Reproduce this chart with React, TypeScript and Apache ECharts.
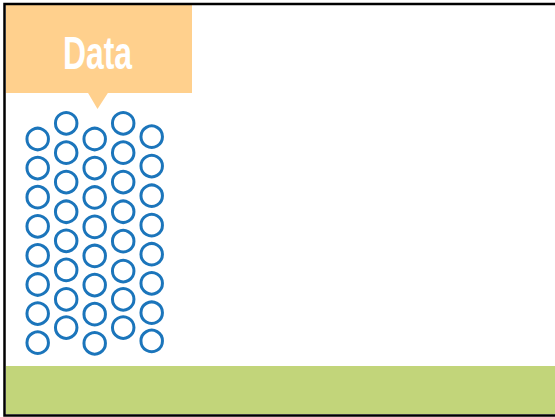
import React, { useEffect, useRef } from "react";
import * as echarts from "echarts";

const columns = [1, 2, 3, 4, 5];
const col1 = [8, 7, 6, 5, 4, 3, 2, 1];
const col2 = [8.54, 7.53, 6.52, 5.5, 4.5, 3.5, 2.49, 1.52];
const col3 = [8, 7, 5.99, 4.98, 3.98, 2.98, 1.98, 0.98];
const col4 = [8.54, 7.53, 6.52, 5.5, 4.49, 3.46, 2.49, 1.52];
const col5 = [8.08, 7.07, 6.05, 5.04, 4.04, 3.04, 2.03, 1.06];
const columnValues = [col1, col2, col3, col4, col5];
const titleText = "Data";

export default function App() {
  const ref = useRef<HTMLDivElement>(null);
  useEffect(() => {
    if (!ref.current) return;
    const chart = echarts.init(ref.current, undefined, { renderer: "svg" });
    const points: number[][] = [];
    columns.forEach((c, i) => {
      columnValues[i].forEach((v) => points.push([c, v]));
    });
    chart.setOption({
      animation: false,
      backgroundColor: "#ffffff",
      grid: { left: 9.2, right: 374.8, top: 109.9, bottom: 45.2 },
      xAxis: { type: "value", min: 0, max: 6, show: false },
      yAxis: { type: "value", min: 0, max: 9, show: false },
      graphic: [
        {
          type: "rect",
          shape: { x: 6, y: 366, width: 560, height: 48 },
          style: { fill: "#c2d57a" },
          z: 1,
        },
        {
          type: "rect",
          shape: { x: 6, y: 5, width: 186, height: 88 },
          style: { fill: "#ffd08d" },
          z: 1,
        },
        {
          type: "polygon",
          shape: { points: [[87.5, 92], [108.5, 92], [97.5, 109]] },
          style: { fill: "#ffd08d" },
          z: 1,
        },
        {
          type: "text",
          x: 97.5,
          y: 53,
          scaleX: 0.68,
          style: {
            text: titleText,
            fill: "#ffffff",
            font: 'bold 47px "Liberation Sans", sans-serif',
            align: "center",
            verticalAlign: "middle",
          },
          z: 2,
        },
        {
          type: "rect",
          shape: { x: 4.5, y: 4, width: 580, height: 411.5 },
          style: { fill: "none", stroke: "#000000", lineWidth: 2.5 },
          z: 3,
        },
      ],
      series: [
        {
          type: "scatter",
          data: points,
          symbol: "circle",
          symbolSize: 21.5,
          itemStyle: { color: "#ffffff", borderColor: "#1b75bb", borderWidth: 3, opacity: 1 },
          emphasis: { disabled: true },
          z: 5,
        },
      ],
    });
    return () => chart.dispose();
  }, []);
  return (
    <div
      ref={ref}
      style={{ position: "fixed", left: 0, top: 0, width: 555, height: 417 }}
    />
  );
}
